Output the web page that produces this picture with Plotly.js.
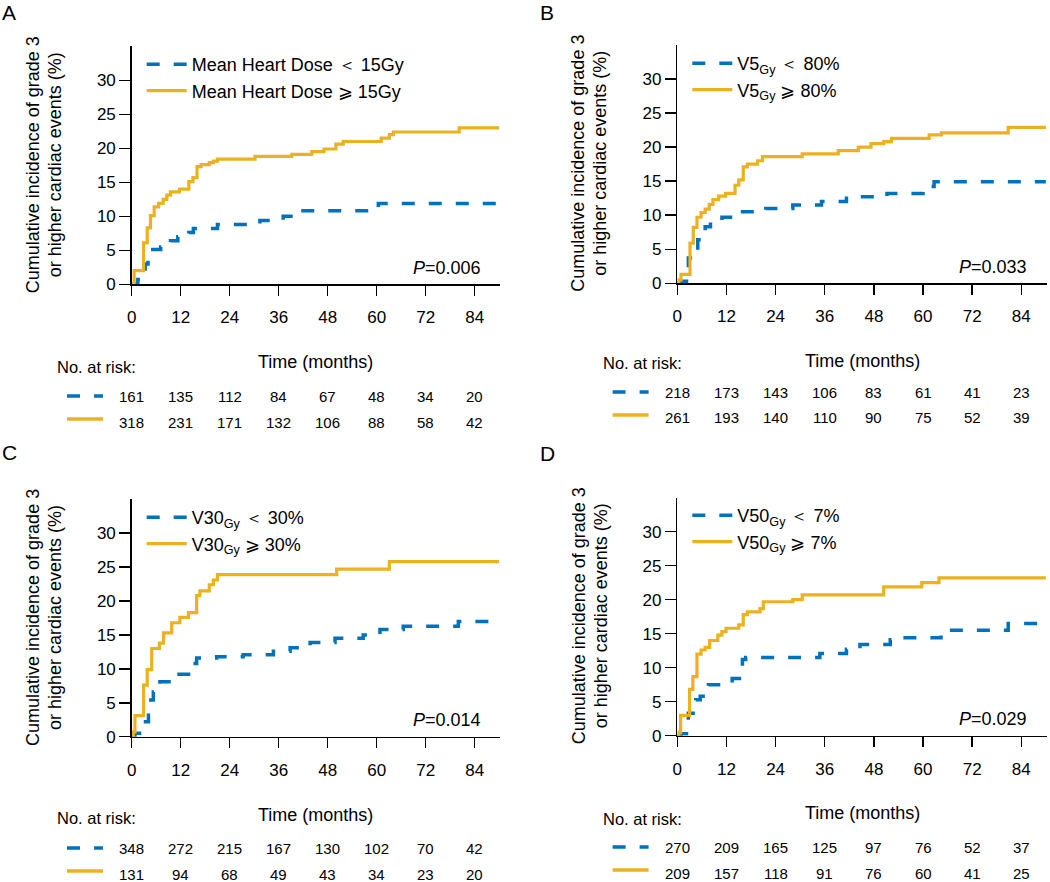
<!DOCTYPE html>
<html>
<head>
<meta charset="utf-8">
<script src="https://cdn.plot.ly/plotly-3.0.1.min.js"></script>
<style>
  html, body { margin: 0; padding: 0; background: #fff; }
  #chart { width: 1050px; height: 882px; }
</style>
</head>
<body>
<div id="chart"></div>
<script>
var BLUE = 'rgb(0,114,189)';
var GOLD = 'rgb(237,177,32)';
var FONT = 'Liberation Sans, Arial, Helvetica, sans-serif';

// shared time ticks
var months = [0, 12, 24, 36, 48, 60, 72, 84];
var yTicks = [0, 5, 10, 15, 20, 25, 30];

// Panel A: mean heart dose
var aLowT = [0, 1.5, 3.3, 4.0, 7.1, 9.5, 11.3, 14.0, 15.1, 21.0, 31.4, 37.1, 40.4, 60.4, 90];
var aLowY = [0, 0.7, 3.0, 5.1, 5.5, 6.4, 7.0, 7.6, 8.2, 8.8, 9.4, 10.0, 10.8, 11.9, 11.9];
var aHighT = [0, 0.6, 2.9, 3.8, 4.6, 5.5, 6.6, 7.7, 8.6, 9.5, 11.7, 14.0, 15.0, 16.0, 17.0, 19.0, 20.0, 21.0, 30.2, 39.2, 44.1, 47.1, 50.0, 51.8, 61.1, 63.1, 64.1, 80.2, 90];
var aHighY = [0, 2.0, 6.1, 8.3, 10.1, 11.4, 11.9, 12.5, 13.1, 13.6, 14.0, 15.1, 15.7, 17.3, 17.6, 17.9, 18.1, 18.4, 18.8, 19.1, 19.5, 19.9, 20.6, 21.0, 21.5, 22.0, 22.4, 23.0, 23.0];
var aRiskLow = [161, 135, 112, 84, 67, 48, 34, 20];
var aRiskHigh = [318, 231, 171, 132, 106, 88, 58, 42];

// Panel B: V5Gy
var bLowT = [0, 0.7, 2.7, 5.0, 6.8, 8.1, 10.9, 14.2, 21.6, 28.2, 35.2, 41.3, 44.6, 51.2, 60.0, 62.7, 90];
var bLowY = [0, 0.3, 3.7, 6.4, 8.3, 9.3, 9.7, 10.5, 11.0, 11.5, 12.0, 12.5, 12.7, 13.2, 14.2, 14.9, 14.9];
var bHighT = [0, 0.4, 0.9, 3.1, 3.9, 4.8, 5.8, 6.8, 7.8, 8.7, 10.1, 11.8, 14.1, 15.0, 16.1, 17.1, 19.6, 20.8, 30.5, 39.3, 44.2, 47.3, 50.4, 52.3, 61.5, 64.5, 80.8, 90];
var bHighY = [0, 0.5, 1.3, 5.9, 8.2, 9.7, 10.4, 10.9, 11.6, 12.3, 12.8, 13.2, 14.4, 15.2, 17.1, 17.5, 18.0, 18.6, 19.0, 19.5, 20.0, 20.5, 20.8, 21.3, 21.8, 22.1, 22.9, 22.9];
var bRiskLow = [218, 173, 143, 106, 83, 61, 41, 23];
var bRiskHigh = [261, 193, 140, 110, 90, 75, 52, 39];

// Panel C: V30Gy
var cLowT = [0, 0.8, 2.9, 4.1, 5.3, 6.9, 11.0, 15.1, 15.9, 20.8, 27.3, 34.7, 38.8, 43.7, 49.8, 56.7, 60.8, 66.5, 80.0, 90];
var cLowY = [0, 0.5, 2.2, 5.4, 6.6, 8.1, 9.2, 10.8, 11.6, 11.8, 12.1, 12.6, 13.1, 13.9, 14.5, 15.0, 15.8, 16.3, 17.0, 17.0];
var cHighT = [0, 0.4, 0.8, 2.9, 3.8, 4.9, 6.8, 7.8, 9.8, 11.8, 13.9, 15.9, 16.7, 19.0, 20.0, 21.0, 50.2, 63.1, 90];
var cHighY = [0, 0.7, 3.1, 7.6, 9.9, 13.0, 13.8, 15.3, 16.8, 17.6, 18.3, 20.8, 21.5, 22.4, 23.1, 23.9, 24.7, 25.8, 25.8];
var cRiskLow = [348, 272, 215, 167, 130, 102, 70, 42];
var cRiskHigh = [131, 94, 68, 49, 43, 34, 23, 20];

// Panel D: V50Gy
var dLowT = [0, 0.9, 2.7, 4.5, 5.6, 7.6, 13.4, 15.9, 16.7, 34.8, 41.3, 44.6, 52.0, 53.0, 64.4, 80.8, 90];
var dLowY = [0, 0.3, 3.3, 5.3, 5.8, 7.5, 8.4, 11.2, 11.5, 12.1, 12.7, 13.4, 14.1, 14.4, 15.5, 16.5, 16.5];
var dHighT = [0, 0.4, 0.8, 3.0, 3.8, 4.8, 5.8, 6.8, 7.9, 9.9, 10.9, 11.9, 15.0, 16.1, 17.1, 20.2, 21.0, 28.2, 30.5, 50.4, 59.7, 63.9, 90];
var dHighY = [0, 0.5, 3.0, 6.8, 8.7, 12.0, 12.6, 13.0, 14.0, 14.8, 15.3, 15.8, 16.3, 17.8, 18.2, 18.7, 19.7, 20.0, 20.7, 21.9, 22.5, 23.2, 23.2];
var dRiskLow = [270, 209, 165, 125, 97, 76, 52, 37];
var dRiskHigh = [209, 157, 118, 91, 76, 60, 41, 25];

var legendNames = [
  ['Mean Heart Dose \uFF1C 15Gy', 'Mean Heart Dose \u2A7E 15Gy'],
  ['V5<sub>Gy</sub> \uFF1C 80%', 'V5<sub>Gy</sub> \u2A7E 80%'],
  ['V30<sub>Gy</sub> \uFF1C 30%', 'V30<sub>Gy</sub> \u2A7E 30%'],
  ['V50<sub>Gy</sub> \uFF1C 7%', 'V50<sub>Gy</sub> \u2A7E 7%']
];
var yTitleLines = ['Cumulative incidence of grade 3', 'or higher cardiac events (%)'];
var pValues = ['0.006', '0.033', '0.014', '0.029'];
var panelLetters = ['A', 'B', 'C', 'D'];

var W = 1050, H = 882;
function px(x) { return x / W; }
function py(y) { return 1 - y / H; }

// pixel frames for each panel (axis left/right, axis bottom/top) and text rows
var panels = [
  {l: 131.7, r: 500, b: 284.3, t: 46.3, letter: [0, 12], legY: 46, titleY: 361.7, riskLabelY: 366.7, row1: 396, row2: 422, pY: 268},
  {l: 677.3, r: 1046.7, b: 283.3, t: 45, letter: [538, 12], legY: 45, titleY: 361, riskLabelY: 363, row1: 392, row2: 418, pY: 267},
  {l: 131.7, r: 500, b: 736.7, t: 499.3, letter: [0, 452], legY: 499, titleY: 815, riskLabelY: 818, row1: 848, row2: 874, pY: 720},
  {l: 677.3, r: 1046.7, b: 735.7, t: 497.7, letter: [538, 453], legY: 497, titleY: 813, riskLabelY: 819, row1: 847, row2: 873, pY: 719}
];

var series = [
  [aLowT, aLowY, aHighT, aHighY, aRiskLow, aRiskHigh],
  [bLowT, bLowY, bHighT, bHighY, bRiskLow, bRiskHigh],
  [cLowT, cLowY, cHighT, cHighY, cRiskLow, cRiskHigh],
  [dLowT, dLowY, dHighT, dHighY, dRiskLow, dRiskHigh]
];

var traces = [];
var annotations = [];
var shapes = [];
var layout = {
  width: W,
  height: H,
  margin: {l: 0, r: 0, t: 0, b: 0},
  paper_bgcolor: 'white',
  plot_bgcolor: 'white',
  font: {family: FONT, color: '#000', size: 17},
  showlegend: true
};

panels.forEach(function(p, i) {
  var sfx = i === 0 ? '' : String(i + 1);
  var s = series[i];
  var legKey = 'legend' + sfx;

  traces.push({
    x: s[0], y: s[1], xaxis: 'x' + sfx, yaxis: 'y' + sfx,
    mode: 'lines', line: {shape: 'hv', color: BLUE, width: 3.5, dash: '13px,14px'},
    name: legendNames[i][0], legend: legKey, hoverinfo: 'skip'
  });
  traces.push({
    x: s[2], y: s[3], xaxis: 'x' + sfx, yaxis: 'y' + sfx,
    mode: 'lines', line: {shape: 'hv', color: GOLD, width: 3.2},
    name: legendNames[i][1], legend: legKey, hoverinfo: 'skip'
  });

  layout['xaxis' + sfx] = {
    domain: [px(p.l), px(p.r)],
    anchor: 'y' + sfx,
    range: [0, 90.2],
    tickvals: months,
    ticks: 'outside', ticklen: 10, tickwidth: 1.5, tickcolor: '#000',
    showline: true, linewidth: 1.5, linecolor: '#000',
    showgrid: false, zeroline: false,
    tickfont: {size: 17},
    ticklabelstandoff: 7,
    fixedrange: true
  };
  layout['yaxis' + sfx] = {
    domain: [py(p.b), py(p.t)],
    anchor: 'x' + sfx,
    range: [0, 35],
    tickvals: yTicks,
    ticksuffix: '\u00a0\u00a0',
    ticks: 'outside', ticklen: 11, tickwidth: 1.5, tickcolor: '#000',
    showline: true, linewidth: 1.5, linecolor: '#000',
    showgrid: false, zeroline: false,
    tickfont: {size: 17},
    fixedrange: true
  };
  layout[legKey] = {
    x: px(p.l + 10), y: py(p.legY), xanchor: 'left', yanchor: 'top',
    bgcolor: 'rgba(0,0,0,0)', borderwidth: 0,
    font: {size: 18}, itemwidth: 40, traceorder: 'normal',
    tracegroupgap: 0
  };

  // panel letter
  annotations.push({
    xref: 'paper', yref: 'paper', x: px(p.letter[0]), y: py(p.letter[1]),
    xanchor: 'left', yanchor: 'middle', showarrow: false,
    text: panelLetters[i], font: {size: 21}
  });
  // y axis title, one annotation per line
  yTitleLines.forEach(function(txt, k) {
    annotations.push({
      xref: 'paper', yref: 'paper', x: px(p.l - 98.7 + 22 * k), y: py((p.t + p.b) / 2 - 1),
      xanchor: 'center', yanchor: 'middle', showarrow: false, textangle: -90,
      text: txt, font: {size: 18}
    });
  });
  // x axis title
  annotations.push({
    xref: 'paper', yref: 'paper', x: px((p.l + p.r) / 2), y: py(p.titleY),
    xanchor: 'center', yanchor: 'middle', showarrow: false,
    text: 'Time (months)', font: {size: 18}
  });
  // P value
  annotations.push({
    xref: 'paper', yref: 'paper', x: px(p.l + 351.5), y: py(p.pY),
    xanchor: 'right', yanchor: 'middle', showarrow: false,
    text: '<i>P</i>=' + pValues[i], font: {size: 18}
  });
  // risk table
  annotations.push({
    xref: 'paper', yref: 'paper', x: px(p.l - 76.7), y: py(p.riskLabelY),
    xanchor: 'left', yanchor: 'middle', showarrow: false,
    text: 'No. at risk:', font: {size: 16.5}
  });
  months.forEach(function(m, k) {
    annotations.push({
      xref: 'x' + sfx, yref: 'paper', x: m, y: py(p.row1),
      xanchor: 'center', yanchor: 'middle', showarrow: false,
      text: String(s[4][k]), font: {size: 15}
    });
    annotations.push({
      xref: 'x' + sfx, yref: 'paper', x: m, y: py(p.row2),
      xanchor: 'center', yanchor: 'middle', showarrow: false,
      text: String(s[5][k]), font: {size: 15}
    });
  });
  // risk table line keys
  shapes.push({
    type: 'line', xref: 'paper', yref: 'paper',
    x0: px(p.l - 64.7), x1: px(p.l - 28.7), y0: py(p.row1), y1: py(p.row1),
    line: {color: BLUE, width: 3.5, dash: '13px,14px'}
  });
  shapes.push({
    type: 'line', xref: 'paper', yref: 'paper',
    x0: px(p.l - 64.7), x1: px(p.l - 28.7), y0: py(p.row2 - 3), y1: py(p.row2 - 3),
    line: {color: GOLD, width: 3.5}
  });
});

layout.annotations = annotations;
layout.shapes = shapes;

Plotly.newPlot('chart', traces, layout, {displayModeBar: false, staticPlot: true});
</script>
</body>
</html>
